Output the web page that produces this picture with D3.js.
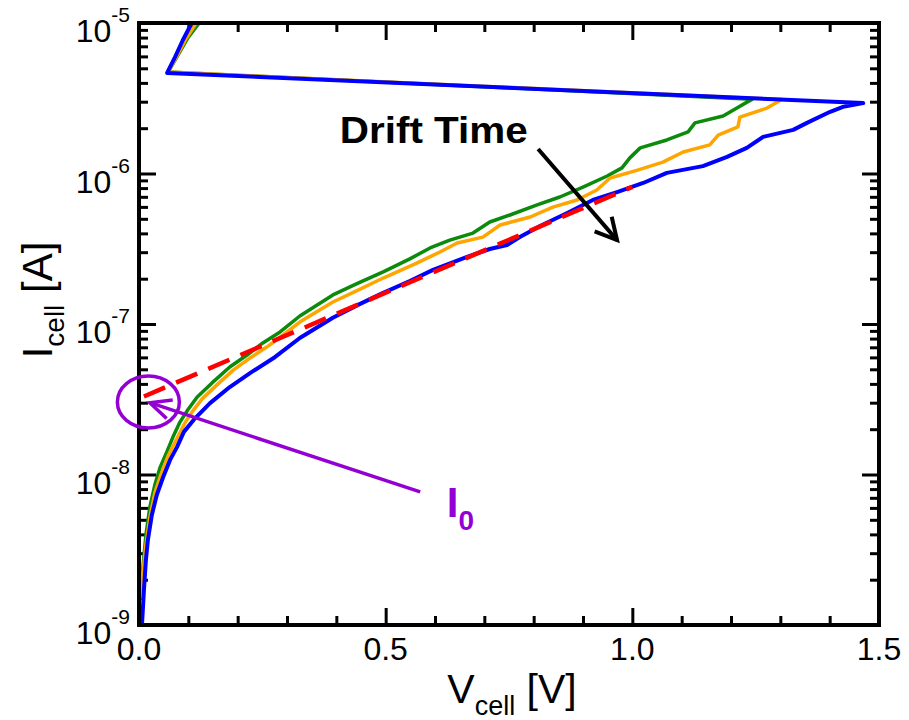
<!DOCTYPE html>
<html>
<head>
<meta charset="utf-8">
<script src="https://cdn.jsdelivr.net/npm/d3@7"></script>
<style>
  body { margin: 0; background: #fff; }
  svg { display: block; }
  text { font-family: "Liberation Sans", Arial, Helvetica, sans-serif; }
</style>
</head>
<body>
<svg id="chart" width="909" height="720"></svg>
<script>
// I–V sweeps of the cell at three drift times (voltage in V, current in A)
const greenV = [0.004,0.008,0.014,0.022,0.032,0.043,0.057,0.069,0.083,0.099,0.118,0.148,0.184,0.219,0.251,0.286,0.326,0.393,0.444,0.495,0.549,0.590,0.630,0.677,0.711,0.752,0.807,0.853,0.900,0.949,0.979,0.995,1.016,1.070,1.113,1.127,1.184,1.212,1.243,0.059,0.079,0.099,0.122];
const greenI = [1.47e-9,2.43e-9,3.96e-9,6.08e-9,8.51e-9,1.12e-8,1.43e-8,1.78e-8,2.23e-8,2.69e-8,3.27e-8,4.06e-8,5.18e-8,6.22e-8,7.48e-8,8.85e-8,1.13e-7,1.56e-7,1.87e-7,2.22e-7,2.71e-7,3.20e-7,3.61e-7,4.02e-7,4.76e-7,5.30e-7,6.18e-7,6.98e-7,8.13e-7,9.62e-7,1.09e-6,1.27e-6,1.48e-6,1.67e-6,1.89e-6,2.17e-6,2.41e-6,2.72e-6,3.12e-6,4.72e-6,6.12e-6,7.95e-6,1.0e-5];

const orangeV = [0.004,0.008,0.014,0.022,0.032,0.045,0.059,0.075,0.093,0.109,0.128,0.158,0.191,0.225,0.259,0.292,0.326,0.393,0.444,0.495,0.563,0.610,0.645,0.697,0.732,0.793,0.839,0.888,0.928,0.955,1.009,1.062,1.103,1.157,1.174,1.214,1.218,1.273,1.303,0.059,0.077,0.095,0.116];
const orangeI = [1.51e-9,2.25e-9,3.40e-9,5.22e-9,7.53e-9,1.01e-8,1.33e-8,1.69e-8,2.20e-8,2.64e-8,3.18e-8,3.94e-8,4.94e-8,5.94e-8,7.03e-8,8.45e-8,1.03e-7,1.40e-7,1.68e-7,2.02e-7,2.54e-7,3.01e-7,3.45e-7,3.78e-7,4.55e-7,5.14e-7,5.98e-7,6.67e-7,7.77e-7,9.33e-7,1.05e-6,1.19e-6,1.39e-6,1.55e-6,1.80e-6,2.04e-6,2.37e-6,2.72e-6,3.10e-6,4.72e-6,6.04e-6,7.83e-6,1.0e-5];

const blueV = [0.006,0.010,0.014,0.018,0.026,0.036,0.049,0.063,0.077,0.091,0.114,0.144,0.184,0.225,0.276,0.326,0.393,0.444,0.495,0.549,0.596,0.665,0.711,0.746,0.772,0.813,0.868,0.920,0.969,1.022,1.070,1.143,1.192,1.232,1.265,1.326,1.354,1.401,1.427,1.468,0.057,0.073,0.089,0.107];
const blueI = [1.0e-9,1.71e-9,2.70e-9,3.67e-9,5.38e-9,7.31e-9,9.62e-9,1.25e-8,1.52e-8,1.92e-8,2.37e-8,2.98e-8,3.81e-8,4.72e-8,6.04e-8,8.07e-8,1.10e-7,1.34e-7,1.61e-7,1.93e-7,2.29e-7,2.79e-7,3.15e-7,3.35e-7,3.78e-7,4.48e-7,5.47e-7,6.67e-7,7.53e-7,8.65e-7,1.01e-6,1.12e-6,1.29e-6,1.48e-6,1.75e-6,1.95e-6,2.17e-6,2.57e-6,2.77e-6,2.94e-6,4.66e-6,5.94e-6,7.71e-6,1.0e-5];

// Exponential fit of the subthreshold branch, extrapolated to V = 0 (I0)
const fitV = [0.01, 1.0];
const fitI = [3.30e-8, 8.15e-7];

// Axis ticks
const xMajorTicks = [0, 0.5, 1.0, 1.5];
const xTickLabels = ["0.0", "0.5", "1.0", "1.5"];
const yDecades = [-9, -8, -7, -6, -5];

// Annotation anchors in data units
const driftLabel = { text: "Drift Time", V: 0.407, I: 1.6e-6 };
const driftArrowV = [0.809, 0.969];
const driftArrowI = [1.455e-6, 3.61e-7];
const i0Mark = { V: 0.019, I: 3.03e-8 };
const i0ArrowV = [0.570, 0.022];
const i0ArrowI = [7.66e-9, 3.0e-8];
const i0Label = { V: 0.624, I: 5.22e-9 };

const svg = d3.select("#chart");
const plotLeft = 139, plotRight = 879, plotTop = 23, plotBottom = 625;

const x = d3.scaleLinear().domain([0, 1.5]).range([plotLeft, plotRight]);
const y = d3.scaleLog().domain([1e-9, 1e-5]).range([plotBottom, plotTop]);

svg.append("defs").append("clipPath").attr("id", "plotClip")
  .append("rect").attr("x", plotLeft).attr("y", plotTop)
  .attr("width", plotRight - plotLeft).attr("height", plotBottom - plotTop);

// Minor tick values
const xMinor = d3.range(0, 16).map(d => d / 10).filter(v => !xMajorTicks.some(m => Math.abs(m - v) < 1e-9));
const yMajor = yDecades.map(e => Math.pow(10, e));
const yMinor = [];
yDecades.slice(0, -1).forEach(e => { for (let k = 2; k <= 9; k++) yMinor.push(k * Math.pow(10, e)); });

const tickStyle = g => {
  g.select(".domain").remove();
  g.selectAll(".tick line").attr("stroke", "#000").attr("stroke-width", 3);
  g.selectAll(".tick text").remove();
};
const majorLen = 17, minorLen = 9;

// Inward ticks on all four sides
svg.append("g").attr("transform", `translate(0,${plotBottom})`)
  .call(d3.axisBottom(x).tickValues(xMajorTicks).tickSize(-majorLen)).call(tickStyle);
svg.append("g").attr("transform", `translate(0,${plotBottom})`)
  .call(d3.axisBottom(x).tickValues(xMinor).tickSize(-minorLen)).call(tickStyle);
svg.append("g").attr("transform", `translate(0,${plotTop})`)
  .call(d3.axisTop(x).tickValues(xMajorTicks).tickSize(-majorLen)).call(tickStyle);
svg.append("g").attr("transform", `translate(0,${plotTop})`)
  .call(d3.axisTop(x).tickValues(xMinor).tickSize(-minorLen)).call(tickStyle);
svg.append("g").attr("transform", `translate(${plotLeft},0)`)
  .call(d3.axisLeft(y).tickValues(yMajor).tickSize(-majorLen)).call(tickStyle);
svg.append("g").attr("transform", `translate(${plotLeft},0)`)
  .call(d3.axisLeft(y).tickValues(yMinor).tickSize(-minorLen)).call(tickStyle);
svg.append("g").attr("transform", `translate(${plotRight},0)`)
  .call(d3.axisRight(y).tickValues(yMajor).tickSize(-majorLen)).call(tickStyle);
svg.append("g").attr("transform", `translate(${plotRight},0)`)
  .call(d3.axisRight(y).tickValues(yMinor).tickSize(-minorLen)).call(tickStyle);

// Tick labels
svg.append("g").selectAll("text").data(xMajorTicks).join("text")
  .attr("x", d => x(d)).attr("y", plotBottom + 35)
  .attr("text-anchor", "middle").attr("font-size", 32).attr("fill", "#000")
  .text((d, i) => xTickLabels[i]);

const yl = svg.append("g").selectAll("text").data(yDecades).join("text")
  .attr("x", plotLeft - 9).attr("y", d => y(Math.pow(10, d)) + 19)
  .attr("text-anchor", "end").attr("fill", "#000");
yl.append("tspan").attr("font-size", 32).text("10");
yl.append("tspan").attr("font-size", 21).attr("dy", -20).text(d => String(d));

// Axis titles
const xt = svg.append("text").attr("x", 512).attr("y", 703)
  .attr("text-anchor", "middle").attr("font-size", 41).attr("fill", "#000");
xt.append("tspan").text("V");
xt.append("tspan").attr("font-size", 27).attr("dy", 12).text("cell");
xt.append("tspan").attr("dy", -12).text(" [V]");

const yt = svg.append("text").attr("transform", "translate(52,300) rotate(-90)")
  .attr("text-anchor", "middle").attr("font-size", 42).attr("fill", "#000");
yt.append("tspan").text("I");
yt.append("tspan").attr("font-size", 28).attr("dy", 12).text("cell");
yt.append("tspan").attr("dy", -12).text(" [A]");

// Curves
const line = d3.line().x(d => x(d[0])).y(d => y(d[1]));
const plot = svg.append("g").attr("clip-path", "url(#plotClip)");
const series = [
  { V: greenV, I: greenI, color: "#0b8a0b", w: 3.5 },
  { V: orangeV, I: orangeI, color: "#ffa500", w: 3.5 },
  { V: blueV, I: blueI, color: "#0000ff", w: 4 }
];
series.forEach(s => {
  plot.append("path").datum(d3.zip(s.V, s.I))
    .attr("d", line).attr("fill", "none")
    .attr("stroke", s.color).attr("stroke-width", s.w)
    .attr("stroke-linejoin", "round");
});
plot.append("path").datum(d3.zip(fitV, fitI))
  .attr("d", line).attr("fill", "none")
  .attr("stroke", "#ff0000").attr("stroke-width", 4.5)
  .attr("stroke-dasharray", "23,12");

// Frame
svg.append("rect").attr("x", plotLeft).attr("y", plotTop)
  .attr("width", plotRight - plotLeft).attr("height", plotBottom - plotTop)
  .attr("fill", "none").attr("stroke", "#000").attr("stroke-width", 4);

// Open-headed arrow from (x0,y0) to (x1,y1)
function arrow(g, x0, y0, x1, y1, color, width, headLen, headAngle) {
  g.append("line").attr("x1", x0).attr("y1", y0).attr("x2", x1).attr("y2", y1)
    .attr("stroke", color).attr("stroke-width", width);
  const a = Math.atan2(y0 - y1, x0 - x1);
  const p1 = [x1 + headLen * Math.cos(a + headAngle), y1 + headLen * Math.sin(a + headAngle)];
  const p2 = [x1 + headLen * Math.cos(a - headAngle), y1 + headLen * Math.sin(a - headAngle)];
  g.append("path").attr("d", `M${p1}L${x1},${y1}L${p2}`)
    .attr("fill", "none").attr("stroke", color).attr("stroke-width", width)
    .attr("stroke-linejoin", "miter");
}

// Drift-time annotation
svg.append("text").attr("x", x(driftLabel.V)).attr("y", y(driftLabel.I))
  .attr("font-size", 36).attr("font-weight", "bold").attr("fill", "#000")
  .attr("textLength", 188).attr("lengthAdjust", "spacingAndGlyphs")
  .text(driftLabel.text);
arrow(svg.append("g"), x(driftArrowV[0]), y(driftArrowI[0]), x(driftArrowV[1]), y(driftArrowI[1]),
  "#000", 4, 24, 28 * Math.PI / 180);

// I0 annotation
const purple = "#9400d3";
svg.append("ellipse").attr("cx", x(i0Mark.V)).attr("cy", y(i0Mark.I))
  .attr("rx", 31).attr("ry", 26)
  .attr("fill", "none").attr("stroke", purple).attr("stroke-width", 3.5);
arrow(svg.append("g"), x(i0ArrowV[0]), y(i0ArrowI[0]), x(i0ArrowV[1]), y(i0ArrowI[1]),
  purple, 3.5, 23, 25 * Math.PI / 180);
const il = svg.append("text").attr("x", x(i0Label.V)).attr("y", y(i0Label.I))
  .attr("font-size", 42).attr("font-weight", "bold").attr("fill", purple);
il.append("tspan").text("I");
il.append("tspan").attr("font-size", 28).attr("dy", 13).text("0");
</script>
</body>
</html>
